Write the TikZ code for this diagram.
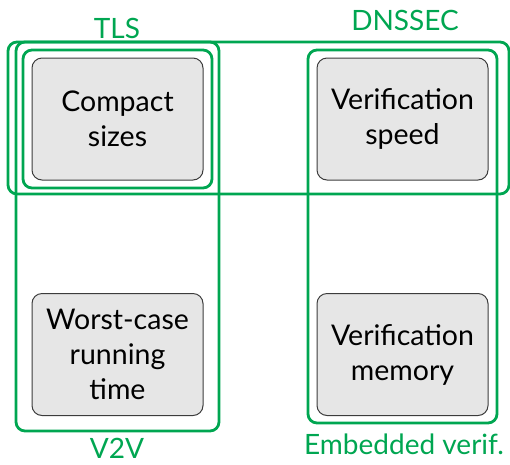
\documentclass[tikz,border=0pt]{standalone}
\usepackage{fontspec}
\setmainfont{Lato}
\definecolor{grp}{RGB}{0,166,81}
\definecolor{boxfill}{RGB}{230,230,230}
\definecolor{boxline}{RGB}{60,60,60}
\begin{document}
\begin{tikzpicture}[x=1pt,y=-1pt,
  item/.style={draw=boxline,fill=boxfill,line width=1pt,rounded corners=10pt,
    minimum width=171pt,minimum height=122pt,align=center,
    font=\fontsize{28.5}{35}\selectfont,inner sep=0pt},
  grpbox/.style={draw=grp,line width=2.8pt,rounded corners=9pt,inner sep=0pt},
  grplabel/.style={text=grp,font=\fontsize{28}{30}\selectfont,inner sep=0pt}]
\useasboundingbox (0,0) rectangle (510,464);
\node[grpbox,minimum width=501pt,minimum height=152pt] (dnssec) at (258.5,118) {};
\node[grpbox,minimum width=203pt,minimum height=389pt] (v2v) at (117.5,236.5) {};
\node[grpbox,minimum width=189pt,minimum height=138pt] (tls) at (117.5,119) {};
\node[grpbox,minimum width=189pt,minimum height=373pt] (emb) at (402.5,236.5) {};
\node[item] (cs) at (117.5,119) {Compact\\sizes};
\node[item] (vs) at (402.5,119) {Verification\\speed};
\node[item] (wc) at (117.5,354.5) {Worst-case\\running\\time};
\node[item] (vm) at (402.5,354.5) {Verification\\memory};
\node[grplabel] (ltls) at (117,28) {TLS};
\node[grplabel] (ldns) at (405,20) {DNSSEC};
\node[grplabel] (lv2v) at (117,448) {V2V};
\node[grplabel] (lemb) at (404,444) {Embedded verif.};
\end{tikzpicture}
\end{document}
